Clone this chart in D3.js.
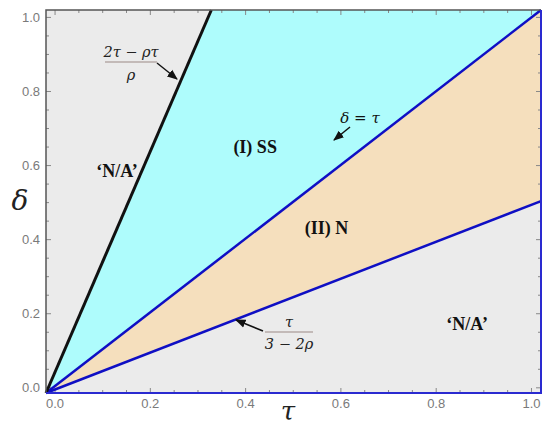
<!DOCTYPE html>
<html>
<head>
<meta charset="utf-8">
<script src="https://cdn.jsdelivr.net/npm/d3@7"></script>
<style>
  body { margin: 0; background: #fff; }
  svg { display: block; }
</style>
</head>
<body>
<div id="chart"></div>
<script>
// values (tau, delta)
var tauDomain = [-0.019, 1.02];
var deltaDomain = [-0.014, 1.02];
var majorTicks = [0, 0.2, 0.4, 0.6, 0.8, 1.0];
var blackLine = [[-0.019, -0.014], [0.328, 1.02]];   // (2tau - rho tau)/rho
var diagLine = [[-0.019, -0.014], [1.02, 1.02]];     // delta = tau
var lowerLine = [[-0.019, -0.014], [1.02, 0.504]];   // tau/(3 - 2rho)
var regionLabels = [
  {text: "\u2018N/A\u2019", tau: 0.13, delta: 0.57},
  {text: "(I) SS", tau: 0.42, delta: 0.635},
  {text: "(II) N", tau: 0.57, delta: 0.415},
  {text: "\u2018N/A\u2019", tau: 0.865, delta: 0.155}
];

var width = 550, height = 426;
var margin = {left: 46, top: 10, right: 9, bottom: 33};

var svg = d3.select("#chart").append("svg")
    .attr("width", width)
    .attr("height", height);

var x = d3.scaleLinear().domain(tauDomain).range([margin.left, width - margin.right]);
var y = d3.scaleLinear().domain(deltaDomain).range([height - margin.bottom, margin.top]);

var line = d3.line()
  .x(function(d) { return x(d[0]); })
  .y(function(d) { return y(d[1]); });

// background
svg.append("rect")
  .attr("x", x(tauDomain[0]))
  .attr("y", y(deltaDomain[1]))
  .attr("width", x(tauDomain[1]) - x(tauDomain[0]))
  .attr("height", y(deltaDomain[0]) - y(deltaDomain[1]))
  .attr("fill", "#ebebeb");

// (I) SS region
svg.append("path")
  .attr("d", line([blackLine[0], blackLine[1], diagLine[1]]) + "Z")
  .attr("fill", "#aefcfc");

// (II) N region
svg.append("path")
  .attr("d", line([diagLine[0], diagLine[1], lowerLine[1]]) + "Z")
  .attr("fill", "#f5dfbd");

// ticks
var minorTicks = d3.range(0, 1.001, 0.05);
var tickG = svg.append("g").attr("stroke", "#888").attr("stroke-width", 1);
minorTicks.forEach(function(t) {
  var isMajor = Math.abs(t * 5 - Math.round(t * 5)) < 1e-6;
  var len = isMajor ? 5 : 3;
  var xt = x(t), yt = y(t);
  tickG.append("line").attr("x1", xt).attr("x2", xt)
    .attr("y1", y(deltaDomain[0])).attr("y2", y(deltaDomain[0]) - len);
  tickG.append("line").attr("x1", xt).attr("x2", xt)
    .attr("y1", y(deltaDomain[1])).attr("y2", y(deltaDomain[1]) + len);
  tickG.append("line").attr("y1", yt).attr("y2", yt)
    .attr("x1", x(tauDomain[0])).attr("x2", x(tauDomain[0]) + len);
  tickG.append("line").attr("y1", yt).attr("y2", yt)
    .attr("x1", x(tauDomain[1])).attr("x2", x(tauDomain[1]) - len);
});

// tick labels
svg.append("g").selectAll("text")
  .data(majorTicks).enter().append("text")
  .attr("x", function(d) { return x(d); })
  .attr("y", y(deltaDomain[0]) + 15)
  .attr("text-anchor", "middle")
  .attr("font-family", "Liberation Sans, Arial, sans-serif")
  .attr("font-size", 13)
  .attr("fill", "#7a7a7a")
  .text(function(d) { return d3.format(".1f")(d); });

svg.append("g").selectAll("text")
  .data(majorTicks).enter().append("text")
  .attr("x", x(tauDomain[0]) - 6)
  .attr("y", function(d) { return y(d) + 4.5; })
  .attr("text-anchor", "end")
  .attr("font-family", "Liberation Sans, Arial, sans-serif")
  .attr("font-size", 13)
  .attr("fill", "#7a7a7a")
  .text(function(d) { return d3.format(".1f")(d); });

// boundary lines
svg.append("path").attr("d", line(lowerLine))
  .attr("fill", "none").attr("stroke", "#0f0fc4").attr("stroke-width", 2.5);
svg.append("path").attr("d", line(diagLine))
  .attr("fill", "none").attr("stroke", "#0f0fc4").attr("stroke-width", 2.5);
svg.append("path").attr("d", line(blackLine))
  .attr("fill", "none").attr("stroke", "#111").attr("stroke-width", 3);

// frame
var x0 = x(tauDomain[0]), x1 = x(tauDomain[1]), y0 = y(deltaDomain[0]), y1 = y(deltaDomain[1]);
svg.append("path").attr("d", "M" + x0 + "," + y0 + "V" + y1 + "H" + x1)
  .attr("fill", "none").attr("stroke", "#555").attr("stroke-width", 1.5);
svg.append("path").attr("d", "M" + x0 + "," + y0 + "H" + x1 + "V" + y1)
  .attr("fill", "none").attr("stroke", "#2a2ad0").attr("stroke-width", 2);

// region labels
svg.append("g").selectAll("text")
  .data(regionLabels).enter().append("text")
  .attr("x", function(d) { return x(d.tau); })
  .attr("y", function(d) { return y(d.delta); })
  .attr("text-anchor", "middle")
  .attr("font-family", "Liberation Serif, Times New Roman, serif")
  .attr("font-weight", "bold")
  .attr("font-size", 18)
  .attr("fill", "#111")
  .text(function(d) { return d.text; });

// arrow marker
svg.append("defs").append("marker")
  .attr("id", "arr")
  .attr("viewBox", "0 0 10 10")
  .attr("refX", 9).attr("refY", 5)
  .attr("markerWidth", 7).attr("markerHeight", 7)
  .attr("orient", "auto")
  .append("path").attr("d", "M0,1L10,5L0,9Z").attr("fill", "#111");

var mathFont = "DejaVu Serif, serif";

function fraction(cx, yNum, yBar, yDen, num, den, barW) {
  var g = svg.append("g")
    .attr("font-family", mathFont)
    .attr("font-size", 14.5)
    .attr("fill", "#222")
    .attr("text-anchor", "middle");
  g.append("text").attr("x", cx).attr("y", yNum).attr("font-style", "italic").text(num);
  g.append("line").attr("x1", cx - barW / 2).attr("x2", cx + barW / 2)
    .attr("y1", yBar).attr("y2", yBar)
    .attr("stroke", "#9c8a86").attr("stroke-width", 1.2);
  g.append("text").attr("x", cx).attr("y", yDen).attr("font-style", "italic").text(den);
}

// (2tau - rho tau)/rho label
fraction(131, 57, 62, 80, "2\u03c4 \u2212 \u03c1\u03c4", "\u03c1", 52);
svg.append("line").attr("x1", 157).attr("y1", 63).attr("x2", 177).attr("y2", 79)
  .attr("stroke", "#111").attr("stroke-width", 1.5).attr("marker-end", "url(#arr)");

// tau/(3 - 2rho) label
fraction(289, 327, 332, 349, "\u03c4", "3 \u2212 2\u03c1", 48);
svg.append("line").attr("x1", 263).attr("y1", 331).attr("x2", 236).attr("y2", 320)
  .attr("stroke", "#111").attr("stroke-width", 1.5).attr("marker-end", "url(#arr)");

// delta = tau label
svg.append("text")
  .attr("x", 360).attr("y", 123)
  .attr("text-anchor", "middle")
  .attr("font-family", mathFont)
  .attr("font-style", "italic")
  .attr("font-size", 15)
  .attr("fill", "#111")
  .text("\u03b4 = \u03c4");
svg.append("line").attr("x1", 350).attr("y1", 127).attr("x2", 334).attr("y2", 140)
  .attr("stroke", "#111").attr("stroke-width", 1.5).attr("marker-end", "url(#arr)");

// axis titles
svg.append("text")
  .attr("x", 20).attr("y", 210)
  .attr("text-anchor", "middle")
  .attr("font-family", mathFont)
  .attr("font-style", "italic")
  .attr("font-size", 28)
  .attr("fill", "#222")
  .text("\u03b4");
svg.append("text")
  .attr("x", 288).attr("y", 420)
  .attr("text-anchor", "middle")
  .attr("font-family", mathFont)
  .attr("font-style", "italic")
  .attr("font-size", 26)
  .attr("fill", "#222")
  .text("\u03c4");
</script>
</body>
</html>
